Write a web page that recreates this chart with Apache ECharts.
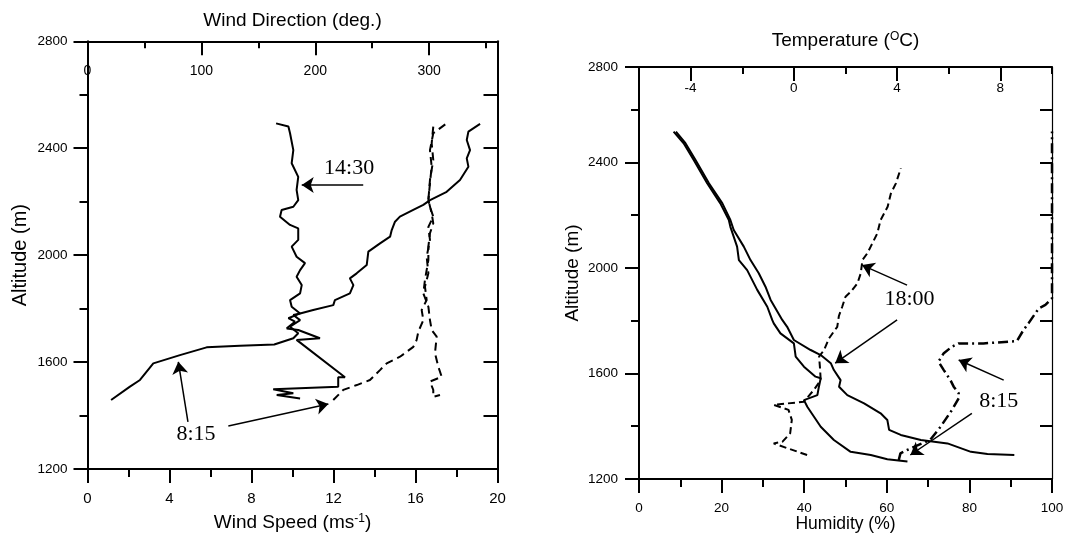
<!DOCTYPE html>
<html>
<head>
<meta charset="utf-8">
<script src="https://cdn.jsdelivr.net/npm/echarts@6/dist/echarts.min.js"></script>
<style>
  html, body { margin: 0; padding: 0; background: #fff; }
  #chart { width: 1067px; height: 535px; }
</style>
</head>
<body>
<div id="chart"></div>
<script>
// left panel: wind speed (ms-1) / wind direction (deg) vs altitude (m)
var speed1430 = [[9.20,2493],[9.80,2481],[9.88,2456],[10.04,2393],[9.96,2344],[10.28,2293],[10.20,2244],[10.28,2206],[10.04,2181],[9.47,2169],[9.39,2144],[9.88,2113],[10.28,2100],[10.28,2057],[9.96,2032],[10.20,1994],[10.61,1970],[10.37,1944],[10.20,1919],[10.45,1888],[10.37,1857],[9.88,1832],[9.96,1807],[10.37,1782],[9.80,1764],[10.12,1751],[9.72,1726],[10.28,1720],[11.34,1689],[10.20,1683],[12.56,1543],[12.23,1543],[12.23,1508],[9.06,1498],[10.04,1483],[9.23,1477],[10.37,1464]];
var speed0815 = [[1.15,1458],[2.07,1508],[2.56,1533],[3.21,1595],[4.51,1626],[5.81,1655],[7.44,1661],[9.11,1666],[10.04,1689],[10.28,1708],[9.88,1732],[10.37,1757],[10.04,1776],[10.37,1782],[11.01,1795],[11.99,1813],[12.07,1832],[12.80,1857],[12.97,1888],[12.80,1913],[13.13,1932],[13.62,1963],[13.70,2013],[14.27,2044],[14.76,2069],[14.84,2094],[15.00,2125],[15.24,2144],[15.89,2169],[16.38,2188],[16.71,2206],[17.52,2237],[18.17,2281],[18.58,2331],[18.50,2362],[18.66,2393],[18.50,2431],[18.58,2462],[19.15,2491]];
var dir0815 = [[215.8,1458],[224.6,1496],[236.4,1514],[248.0,1533],[256.8,1570],[262.7,1595],[274.4,1620],[286.1,1657],[289.0,1683],[290.5,1714],[294.9,1757],[293.4,1795],[297.8,1832],[296.3,1882],[299.3,1932],[297.8,1994],[300.7,2057],[299.3,2106],[303.6,2144],[300.7,2181],[299.3,2206],[300.7,2269],[302.2,2331],[300.7,2393],[303.6,2456],[315.4,2493]];
var dir1430 = [[303.6,2481],[302.2,2418],[303.6,2356],[300.7,2281],[299.3,2206],[302.2,2157],[303.6,2119],[300.7,2082],[299.3,2032],[299.3,1982],[296.3,1907],[294.9,1857],[299.3,1807],[300.7,1757],[302.2,1720],[306.6,1695],[305.1,1633],[308.0,1583],[311.0,1545],[300.7,1527],[303.6,1496],[303.6,1470],[309.5,1477]];

// right panel: temperature (oC) / humidity (%) vs altitude (m)
var temp0815 = [[-4.66,2517],[-4.27,2473],[-3.88,2409],[-3.36,2321],[-2.85,2245],[-2.52,2182],[-2.46,2156],[-2.20,2081],[-2.13,2030],[-1.81,1992],[-1.42,1917],[-1.03,1853],[-0.84,1803],[-0.78,1790],[-0.52,1752],[0.00,1714],[0.07,1664],[0.39,1626],[0.84,1588],[1.04,1582],[0.97,1550],[0.91,1518],[0.39,1499],[0.52,1474],[1.04,1398],[1.55,1348],[2.20,1303],[2.98,1291],[3.62,1275],[4.40,1266]];
var temp1800 = [[-4.57,2517],[-4.20,2473],[-3.81,2409],[-3.29,2321],[-2.77,2245],[-2.46,2182],[-2.33,2144],[-1.94,2081],[-1.68,2030],[-1.36,1980],[-1.10,1929],[-0.90,1879],[-0.45,1803],[-0.26,1777],[0.00,1727],[0.65,1689],[1.04,1670],[1.43,1639],[1.55,1613],[1.81,1575],[1.75,1550],[2.07,1518],[2.72,1487],[3.36,1449],[3.62,1424],[3.69,1386],[4.14,1367],[4.92,1348],[5.95,1335],[6.86,1303],[7.50,1295],[8.54,1291]];
var hum1800 = [[40.7,1291],[35.7,1318],[32.6,1335],[34.7,1341],[36.6,1373],[37.0,1424],[36.2,1462],[32.6,1481],[39.9,1493],[42.3,1537],[44.0,1575],[43.8,1626],[43.6,1664],[44.8,1689],[46.0,1733],[48.0,1777],[48.4,1818],[49.2,1853],[50.0,1891],[51.3,1910],[52.9,1942],[53.7,1980],[54.1,2030],[55.3,2056],[56.1,2081],[57.7,2131],[58.5,2182],[60.2,2232],[61.0,2283],[62.2,2321],[63.4,2378]];
var hum0815 = [[62.9,1272],[63.3,1297],[64.9,1310],[70.5,1348],[73.0,1398],[75.8,1462],[77.4,1506],[77.4,1525],[76.2,1550],[75.4,1575],[73.8,1613],[72.5,1645],[73.8,1677],[75.8,1702],[77.4,1714],[83.4,1714],[91.5,1723],[93.1,1765],[94.3,1790],[96.8,1847],[98.4,1860],[100,1885],[100,2517]];

// tick labels
var tempTicks = [-4, 0, 4, 8];
var altTop = 2762;   // right frame top, labelled 2800 in the original
var altLabelsRight = [1200, 1600, 2000, 2400, altTop];

// annotations: [from, to] in data coords
var leftArrows = [[[13.45,2262],[10.45,2262]], [[4.90,1376],[4.43,1601]], [[6.87,1361],[11.75,1443]]];
var leftNotes = [['14:30', 12.76, 2325], ['8:15', 5.29, 1331]];
var rightArrows = [[[64.9,1935],[54.0,2011]], [[62.5,1803],[47.5,1639]], [[88.3,1575],[77.4,1651]], [[80.6,1449],[65.7,1291]]];
var rightNotes = [['18:00', 65.5, 1882], ['8:15', 87.1, 1493]];

var FONT = 'Liberation Sans, Arial, sans-serif';
var black = {color: '#000', width: 2};

function line(show, width){
    return {show: show !== false, onZero: false, lineStyle: {color: '#000', width: width || 2}};
}
function tick(len, inside){
    return {show: true, length: len, inside: !!inside, lineStyle: black};
}
function lbl(size, margin, inside){
    return {show: true, fontSize: size, margin: margin, inside: !!inside, color: '#000', fontFamily: FONT,
            formatter: function(v){ return String(v); }};
}
var supRich = {sup: {fontSize: 12, fontFamily: FONT, color: '#000', verticalAlign: 'top', padding: [0, 0, 6, 0]}};

function arrowLine(list){
    return {
        silent: true, animation: false,
        symbol: ['none', 'arrow'], symbolSize: 12,
        lineStyle: {color: '#000', width: 1.5, type: 'solid'},
        label: {show: false},
        data: list.map(function(a){ return [{coord: a[0]}, {coord: a[1]}]; })
    };
}
function notes(list){
    return {
        silent: true, animation: false,
        symbol: 'rect', symbolSize: 1, itemStyle: {color: 'rgba(0,0,0,0)'},
        label: {show: true, position: 'inside', formatter: '{b}', color: '#000', fontSize: 22, fontFamily: 'Liberation Serif, Times New Roman, serif'},
        data: list.map(function(n){ return {name: n[0], coord: [n[1], n[2]]}; })
    };
}
function curve(data, xi, yi, type, extra){
    var s = {
        type: 'line', data: data, xAxisIndex: xi, yAxisIndex: yi,
        symbol: 'none', animation: false, clip: false, z: 5,
        lineStyle: {color: '#000', width: 2, type: type}
    };
    for (var k in extra) s[k] = extra[k];
    return s;
}

var leftGrid = {left: 87.5, right: 569.5, top: 41.3, bottom: 66, outerBoundsMode: 'none', containLabel: false};
var rightGrid = {left: 639, right: 15, top: 67, bottom: 56, outerBoundsMode: 'none', containLabel: false};

var option = {
    backgroundColor: '#fff',
    animation: false,
    grid: [leftGrid, leftGrid, rightGrid, rightGrid],
    xAxis: [
        // 0: wind speed (bottom)
        {gridIndex: 0, type: 'value', position: 'bottom', min: 0, max: 20, interval: 4,
         axisLine: line(), axisTick: tick(14),
         minorTick: {show: true, splitNumber: 2, length: 8, lineStyle: black},
         axisLabel: lbl(15, 22), splitLine: {show: false},
         name: 'Wind Speed (ms{sup|-1})', nameLocation: 'middle', nameGap: 44, nameMoveOverlap: false,
         nameTextStyle: {fontSize: 19, fontFamily: FONT, color: '#000', rich: supRich}},
        // 1: wind direction (top)
        {gridIndex: 0, type: 'value', position: 'top', min: 0, max: 360, interval: 100,
         axisLine: line(), axisTick: tick(14, true),
         axisLabel: Object.assign(lbl(14, 23, true), {showMaxLabel: false}), splitLine: {show: false},
         name: 'Wind Direction (deg.)', nameLocation: 'middle', nameGap: 11, nameMoveOverlap: false,
         nameTextStyle: {fontSize: 19, fontFamily: FONT, color: '#000'}},
        // 2: wind direction minor ticks
        {gridIndex: 1, type: 'value', position: 'top', min: 0, max: 360, interval: 50,
         axisLine: line(false), axisTick: tick(7, true), axisLabel: {show: false}, splitLine: {show: false}},
        // 3: humidity (bottom)
        {gridIndex: 2, type: 'value', position: 'bottom', min: 0, max: 100, interval: 20,
         axisLine: line(), axisTick: tick(14),
         minorTick: {show: true, splitNumber: 2, length: 8, lineStyle: black},
         axisLabel: lbl(13.5, 22), splitLine: {show: false},
         name: 'Humidity (%)', nameLocation: 'middle', nameGap: 36, nameMoveOverlap: false,
         nameTextStyle: {fontSize: 17.5, fontFamily: FONT, color: '#000'}},
        // 4: temperature (top)
        {gridIndex: 2, type: 'value', position: 'top', min: -6, max: 10,
         axisLine: line(),
         axisTick: Object.assign(tick(14, true), {customValues: tempTicks}),
         axisLabel: Object.assign(lbl(13.5, 14, true), {customValues: tempTicks}), splitLine: {show: false},
         name: 'Temperature ({sup|O}C)', nameLocation: 'middle', nameGap: 17, nameMoveOverlap: false,
         nameTextStyle: {fontSize: 19, fontFamily: FONT, color: '#000', rich: supRich}},
        // 5: temperature minor ticks
        {gridIndex: 3, type: 'value', position: 'top', min: -6, max: 10, interval: 2,
         axisLine: line(false), axisTick: tick(7, true), axisLabel: {show: false}, splitLine: {show: false}}
    ],
    yAxis: [
        // 0: altitude, left panel
        {gridIndex: 0, type: 'value', position: 'left', min: 1200, max: 2800, interval: 400,
         axisLine: line(), axisTick: tick(14),
         minorTick: {show: true, splitNumber: 2, length: 8, lineStyle: black},
         axisLabel: lbl(13.5, 20), splitLine: {show: false},
         name: 'Altitude (m)', nameLocation: 'middle', nameGap: 57, nameRotate: 90, nameMoveOverlap: false,
         nameTextStyle: {fontSize: 20, fontFamily: FONT, color: '#000'}},
        // 1: right frame, left panel
        {gridIndex: 0, type: 'value', position: 'right', min: 1200, max: 2800, interval: 200,
         axisLine: line(), axisTick: tick(14, true), axisLabel: {show: false}, splitLine: {show: false}},
        // 2: hidden helper
        {gridIndex: 1, type: 'value', show: false, min: 1200, max: 2800},
        // 3: altitude, right panel
        {gridIndex: 2, type: 'value', position: 'left', min: 1200, max: altTop,
         axisLine: line(),
         axisTick: Object.assign(tick(14), {customValues: altLabelsRight}),
         axisLabel: Object.assign(lbl(13.5, 21), {customValues: altLabelsRight,
             formatter: function(v){ return v === altTop ? '2800' : String(v); }}),
         splitLine: {show: false},
         name: 'Altitude (m)', nameLocation: 'middle', nameGap: 57, nameRotate: 90, nameMoveOverlap: false,
         nameTextStyle: {fontSize: 19, fontFamily: FONT, color: '#000'}},
        // 4: right frame, right panel (thinner, so the 100 % curve shows on it)
        {gridIndex: 2, type: 'value', position: 'right', min: 1200, max: altTop, interval: 200,
         axisLine: line(true, 1.2), axisTick: tick(12, true), axisLabel: {show: false}, splitLine: {show: false}},
        // 5: altitude minor ticks, right panel
        {gridIndex: 3, type: 'value', position: 'left', min: 1200, max: altTop, interval: 200,
         axisLine: line(false), axisTick: tick(8), axisLabel: {show: false}, splitLine: {show: false}}
    ],
    series: [
        curve(speed1430, 0, 0, 'solid', {markLine: arrowLine(leftArrows), markPoint: notes(leftNotes)}),
        curve(speed0815, 0, 0, 'solid'),
        curve(dir0815, 1, 0, [8, 5]),
        curve(dir1430, 1, 0, [8, 5]),
        curve(temp0815, 4, 3, 'solid'),
        curve(temp1800, 4, 3, 'solid'),
        curve(hum1800, 3, 3, [7, 4], {markLine: arrowLine(rightArrows), markPoint: notes(rightNotes)}),
        curve(hum0815, 3, 3, [10, 4, 2, 4], {lineStyle: {color: '#000', width: 2.5, type: [10, 4, 2, 4]}})
    ]
};

var chart = echarts.init(document.getElementById('chart'), null, {renderer: 'canvas'});
chart.setOption(option);
</script>
</body>
</html>
